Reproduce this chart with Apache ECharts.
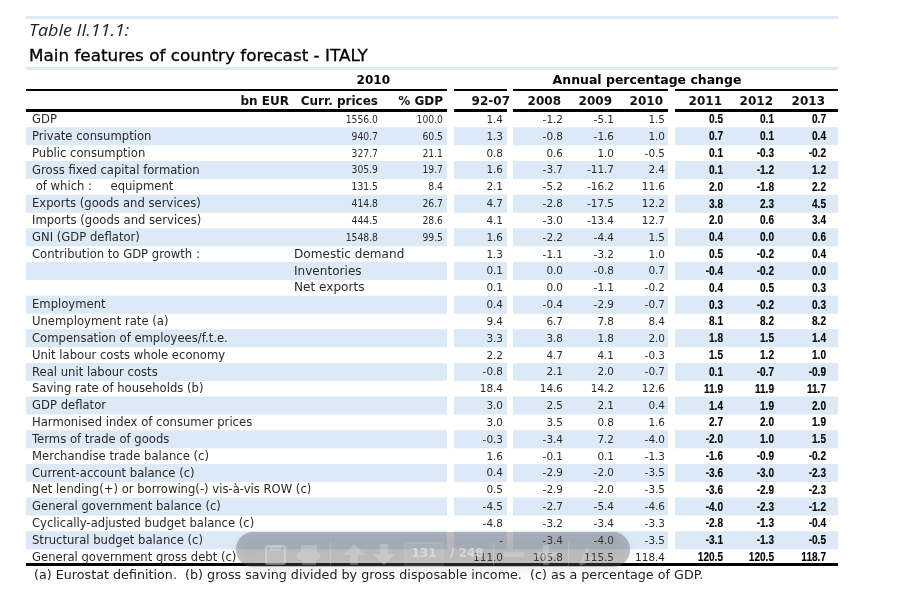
<!DOCTYPE html>
<html><head><meta charset="utf-8">
<style>html,body{margin:0;padding:0;background:#fff}#c{width:901px;height:597px}</style>
<script src="https://cdn.jsdelivr.net/npm/echarts@6/dist/echarts.min.js"></script>
</head><body><div id="c"></div>
<script>
const rowLabels = ["GDP","Private consumption","Public consumption","Gross fixed capital formation"," of which :     equipment","Exports (goods and services)","Imports (goods and services)","GNI (GDP deflator)","Contribution to GDP growth :","","","Employment","Unemployment rate (a)","Compensation of employees/f.t.e.","Unit labour costs whole economy","Real unit labour costs","Saving rate of households (b)","GDP deflator","Harmonised index of consumer prices","Terms of trade of goods","Merchandise trade balance (c)","Current-account balance (c)","Net lending(+) or borrowing(-) vis-à-vis ROW (c)","General government balance (c)","Cyclically-adjusted budget balance (c)","Structural budget balance (c)","General government gross debt (c)"];
const subLabels = {8:"Domestic demand",9:"Inventories",10:"Net exports"};
const bandRows = [1,3,5,7,9,11,13,15,17,19,21,23,25];
const currPrices = ["1556.0","940.7","327.7","305.9","131.5","414.8","444.5","1548.8"];
const pctGdp = ["100.0","60.5","21.1","19.7","8.4","26.7","28.6","99.5"];
const avg9207 = ["1.4","1.3","0.8","1.6","2.1","4.7","4.1","1.6","1.3","0.1","0.1","0.4","9.4","3.3","2.2","-0.8","18.4","3.0","3.0","-0.3","1.6","0.4","0.5","-4.5","-4.8","-","111.0"];
const y2008 = ["-1.2","-0.8","0.6","-3.7","-5.2","-2.8","-3.0","-2.2","-1.1","0.0","0.0","-0.4","6.7","3.8","4.7","2.1","14.6","2.5","3.5","-3.4","-0.1","-2.9","-2.9","-2.7","-3.2","-3.4","105.8"];
const y2009 = ["-5.1","-1.6","1.0","-11.7","-16.2","-17.5","-13.4","-4.4","-3.2","-0.8","-1.1","-2.9","7.8","1.8","4.1","2.0","14.2","2.1","0.8","7.2","0.1","-2.0","-2.0","-5.4","-3.4","-4.0","115.5"];
const y2010 = ["1.5","1.0","-0.5","2.4","11.6","12.2","12.7","1.5","1.0","0.7","-0.2","-0.7","8.4","2.0","-0.3","-0.7","12.6","0.4","1.6","-4.0","-1.3","-3.5","-3.5","-4.6","-3.3","-3.5","118.4"];
const y2011 = ["0.5","0.7","0.1","0.1","2.0","3.8","2.0","0.4","0.5","-0.4","0.4","0.3","8.1","1.8","1.5","0.1","11.9","1.4","2.7","-2.0","-1.6","-3.6","-3.6","-4.0","-2.8","-3.1","120.5"];
const y2012 = ["0.1","0.1","-0.3","-1.2","-1.8","2.3","0.6","0.0","-0.2","-0.2","0.5","-0.2","8.2","1.5","1.2","-0.7","11.9","1.9","2.0","1.0","-0.9","-3.0","-2.9","-2.3","-1.3","-1.3","120.5"];
const y2013 = ["0.7","0.4","-0.2","1.2","2.2","4.5","3.4","0.6","0.4","0.0","0.3","0.3","8.2","1.4","1.0","-0.9","11.7","2.0","1.9","1.5","-0.2","-2.3","-2.3","-1.2","-0.4","-0.5","118.7"];
const columnHeads = ["Curr. prices","% GDP","92-07","2008","2009","2010","2011","2012","2013"];
const title1 = "Table II.11.1:";
const title2 = "Main features of country forecast - ITALY";
const footnote = "(a) Eurostat definition.  (b) gross saving divided by gross disposable income.  (c) as a percentage of GDP.";

const columns = [currPrices,pctGdp,avg9207,y2008,y2009,y2010,y2011,y2012,y2013];
const colRight = [378,443,503,563,614,665,723,774,826];
const headRight = [378,443,510,561,612,663,722,773,825];
const blocks = [[26,447],[454,507],[513,668],[675,838]];
const FONT='"DejaVu Sans"';
const BLUE='#dce9f7';

const chart=echarts.init(document.getElementById('c'),null,{renderer:'canvas'});

function txt(x,y,text,o){o=o||{};return {type:'text',x:x,y:y,scaleX:o.sx||1,silent:true,z2:o.z2||5,
  style:{text:text,fill:o.fill||'#2a2a2a',stroke:o.stroke,lineWidth:o.lw||0,font:(o.w||'normal')+' '+(o.size||11)+'px '+(o.family||FONT),align:o.align||'left',verticalAlign:'middle'}};}

const series=[];
series.push({type:'custom',coordinateSystem:'cartesian2d',z:1,silent:true,animation:false,clip:false,
  data:bandRows.map(r=>[0,r]),encode:{x:0,y:1},
  renderItem(p,api){const r=api.value(1);const c=api.coord([0,r]);const h=api.size([0,1])[1];
    return {type:'group',children:blocks.map(b=>({type:'rect',shape:{x:b[0],y:c[1]-h/2+0.3,width:b[1]-b[0],height:18},style:{fill:BLUE}}))};}
});
series.push({type:'custom',coordinateSystem:'cartesian2d',z:3,silent:true,animation:false,clip:false,
  data:rowLabels.map((l,i)=>[32,i]),encode:{x:0,y:1},
  renderItem(p,api){const i=api.value(1);const c=api.coord([api.value(0),i]);
    const kids=[txt(c[0],c[1]+1.5,rowLabels[i],{size:11.5,sx:1.01})];
    if(subLabels[i]) kids.push(txt(294,c[1]+1.5,subLabels[i],{size:11.5,sx:1.05}));
    return {type:'group',children:kids};}
});
columns.forEach((col,ci)=>{
  const bold=ci>=6;
  series.push({type:'custom',coordinateSystem:'cartesian2d',z:3,silent:true,animation:false,clip:false,
    name:columnHeads[ci],data:col.map((v,i)=>[colRight[ci],i]),encode:{x:0,y:1},
    renderItem(p,api){const i=api.value(1);const c=api.coord([api.value(0),i]);
      return txt(c[0],c[1]+1.5,col[i],bold?{align:'right',w:'bold',size:12,sx:.84,family:'"Liberation Sans"',fill:'#000',stroke:'#000',lw:.12}:{align:'right',size:11,sx:ci<2?.84:.95,fill:'#2a2a2a'});}
  });
});

function rule(x1,x2,y,h,fill,z){return {type:'rect',shape:{x:x1,y:y,width:x2-x1,height:h},style:{fill:fill||'#000'},silent:true,z:z||4};}
const g=[];
g.push(rule(26,838,16,3,BLUE),rule(26,838,67,3,BLUE));
blocks.forEach(b=>{g.push(rule(b[0],b[1],89,2),rule(b[0],b[1],109,3));});
g.push(rule(26,838,563,3));
const gt=(x,y,t,o)=>Object.assign(txt(x,y,t,o),{z:5});
g.push(gt(29,31,title1,{size:16,w:'italic',family:'"Open Sans"',fill:'#222',sx:1.12}));
g.push(gt(29,57,title2,{size:16,fill:'#000',sx:1.05,stroke:'#000',lw:.3}));
g.push(gt(390,81,"2010",{size:12,w:'bold',fill:'#000',align:'right'}));
g.push(gt(647,81,"Annual percentage change",{size:12,w:'bold',fill:'#000',align:'center',sx:1.04}));
g.push(gt(289,102,"bn EUR",{size:12,w:'bold',fill:'#111',align:'right'}));
columnHeads.forEach((h,i)=>g.push(gt(headRight[i],102,h,{size:12,w:'bold',fill:'#111',align:'right'})));
g.push(gt(34,576,footnote,{size:12,fill:'#222',sx:1.06}));

// viewer toolbar overlay
const tbz=20;
g.push({type:'rect',shape:{x:236,y:532,width:394,height:35,r:[17,17,17,17]},z:tbz,silent:true,
  style:{fill:new echarts.graphic.LinearGradient(0,0,0,1,[{offset:0,color:'rgba(85,85,90,0.37)'},{offset:1,color:'rgba(100,100,100,0.34)'}]),shadowBlur:8,shadowColor:'rgba(0,0,0,.22)',shadowOffsetY:3}});
const ic='rgba(235,235,235,0.28)';
const icr=(x,y,w,h,r)=>({type:'rect',shape:{x,y,width:w,height:h,r:r||0},style:{fill:ic},z:tbz+1,silent:true});
const icl=(x,y,w,h)=>({type:'rect',shape:{x,y,width:w,height:h},style:{fill:'rgba(255,255,255,0.18)'},z:tbz+1,silent:true});
const poly=(pts)=>({type:'polygon',shape:{points:pts},style:{fill:ic},z:tbz+1,silent:true});
g.push({type:'rect',shape:{x:266,y:546,width:19,height:18,r:2},style:{fill:'rgba(255,255,255,0.06)',stroke:'rgba(235,235,235,0.4)',lineWidth:2},z:tbz+1,silent:true});
g.push(icr(270,546,11,5));
g.push(icr(301,545,16,7),icr(297,552,23,8,3),icr(302,560,14,5));
g.push(icl(330,542,1,24),icl(493,542,1,24),icl(568,542,1,24));
g.push(poly([[343,555],[354,544],[365,555],[358,555],[358,565],[350,565],[350,555]]));
g.push(poly([[373,554],[384,565],[395,554],[388,554],[388,544],[380,544],[380,554]]));
g.push({type:'rect',shape:{x:405,y:543,width:38,height:23},style:{fill:'rgba(255,255,255,0.05)',stroke:'rgba(255,255,255,0.15)'},z:tbz+1,silent:true});
g.push(Object.assign(txt(424,554,"131",{size:12,w:'bold',fill:'rgba(225,225,225,0.75)',align:'center'}),{z:tbz+2}));
g.push(Object.assign(txt(450,554,"/ 248",{size:12,w:'bold',fill:'rgba(225,225,225,0.75)'}),{z:tbz+2}));
g.push(icr(504,552,20,5,1),icr(543,545,6,20,1),icr(536,552,20,5,1));
g.push(poly([[579,564],[587,548],[589,549],[583,562],[592,556],[594,559],[581,566]]));

chart.setOption({
  animation:false,
  grid:{left:0,right:0,top:110.2,height:454.4,containLabel:false},
  xAxis:{type:'value',min:0,max:901,show:false},
  yAxis:{type:'category',inverse:true,show:false,data:rowLabels.map((l,i)=>String(i))},
  series:series,
  graphic:{elements:g}
});
</script></body></html>
